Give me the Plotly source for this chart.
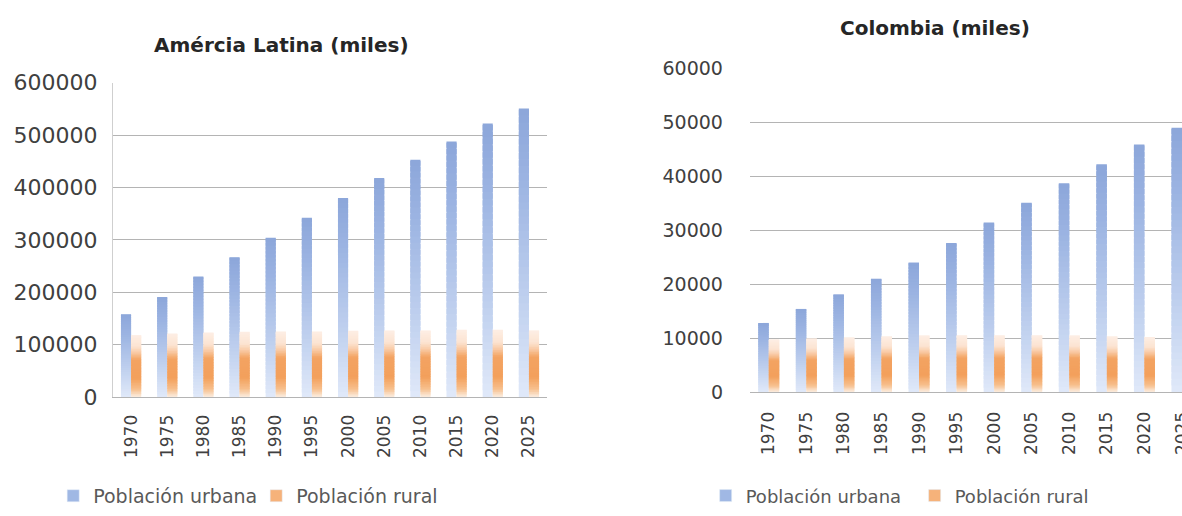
import numpy as np
import plotly.graph_objects as go

# Population (thousands), 1970-2025
years = ["1970", "1975", "1980", "1985", "1990", "1995",
         "2000", "2005", "2010", "2015", "2020", "2025"]

latam_urbana = [158000, 191000, 230000, 267000, 304000, 342000,
                380000, 418000, 453000, 488000, 522000, 551000]
latam_rural = [118000, 121000, 123000, 124000, 125000, 125000,
               126000, 127000, 127000, 128000, 128000, 127000]

col_urbana = [12800, 15400, 18100, 21000, 24000, 27600,
              31400, 35100, 38700, 42200, 45900, 49000]
col_rural = [9700, 9900, 10100, 10300, 10400, 10500,
             10500, 10500, 10400, 10300, 10200, 10100]

# vertical colour ramps (fraction of bar height -> rgb)
URBAN_STOPS = [(0.0, (224, 233, 249)), (0.35, (190, 207, 238)),
               (0.75, (156, 180, 226)), (1.0, (140, 166, 218))]
RURAL_STOPS = [(0.0, (252, 238, 226)), (0.12, (247, 192, 142)),
               (0.3, (243, 160, 92)), (0.6, (243, 163, 98)),
               (0.72, (249, 203, 166)), (0.82, (252, 228, 210)),
               (1.0, (253, 238, 228))]

N_SEG = 40


def ramp(stops, f):
    for (f0, c0), (f1, c1) in zip(stops[:-1], stops[1:]):
        if f0 <= f <= f1:
            t = (f - f0) / (f1 - f0)
            c = [round(a + (b - a) * t) for a, b in zip(c0, c1)]
            return "rgb({},{},{})".format(*c)
    return "rgb({},{},{})".format(*stops[-1][1])


def gradient_bars(fig, values, stops, group, xa, ya):
    # each bar is painted bottom-up as overlapping slices of a colour ramp
    vals = np.asarray(values, dtype=float)
    for k in range(N_SEG):
        f = (k + 0.5) / N_SEG
        lo = vals * k / N_SEG
        hi = vals * min(k + 1.8, N_SEG) / N_SEG
        fig.add_trace(go.Bar(
            x=years, y=hi - lo, base=lo,
            marker=dict(color=ramp(stops, f), line=dict(width=0)),
            offsetgroup=group, xaxis=xa, yaxis=ya,
            showlegend=False, hoverinfo="skip"))


def legend_entry(fig, name, color, group, xa, ya, legend):
    fig.add_trace(go.Bar(
        x=[None], y=[None], name=name, marker=dict(color=color),
        offsetgroup=group, xaxis=xa, yaxis=ya, legend=legend))


fig = go.Figure()

# Latin America
gradient_bars(fig, latam_urbana, URBAN_STOPS, "u", "x", "y")
gradient_bars(fig, latam_rural, RURAL_STOPS, "r", "x", "y")
legend_entry(fig, "Población urbana", "rgb(160,184,228)", "u", "x", "y", "legend")
legend_entry(fig, "Población rural", "rgb(246,178,122)", "r", "x", "y", "legend")

# Colombia
gradient_bars(fig, col_urbana, URBAN_STOPS, "u", "x2", "y2")
gradient_bars(fig, col_rural, RURAL_STOPS, "r", "x2", "y2")
legend_entry(fig, "Población urbana", "rgb(160,184,228)", "u", "x2", "y2", "legend2")
legend_entry(fig, "Población rural", "rgb(246,178,122)", "r", "x2", "y2", "legend2")

FONT = "DejaVu Sans"
YTICK1 = dict(family=FONT, size=22, color="#404040")
YTICK2 = dict(family=FONT, size=19, color="#404040")
XTICK = dict(family=FONT, size=17, color="#404040")
LEG1 = dict(family=FONT, size=19, color="#595959")
LEG2 = dict(family=FONT, size=18, color="#595959")
TITLE = dict(family=FONT, size=20, color="#262626")
GRID = "#B4B4B4"

fig.update_layout(
    width=1182, height=516,
    margin=dict(l=0, r=0, t=0, b=0, autoexpand=False),
    paper_bgcolor="white", plot_bgcolor="white",
    barmode="group", bargap=0.44, bargroupgap=0,
    font=dict(family=FONT, color="#404040"),
    xaxis=dict(domain=[0.0956, 0.4628], anchor="y", type="category",
               range=[-0.5, 11.5], tickangle=-90, showgrid=False,
               showline=True, linecolor=GRID, ticks="",
               tickfont=XTICK, ticklabelstandoff=10),
    yaxis=dict(domain=[0.2306, 0.8397], anchor="x", range=[0, 600000],
               dtick=100000, tickformat="d", gridcolor=GRID,
               showline=True, linecolor="#CFCFCF", zeroline=False,
               ticks="", tickfont=YTICK1, ticklabelstandoff=10),
    xaxis2=dict(domain=[0.6345, 1.0], anchor="y2", type="category",
                range=[-0.5, 11.0], tickangle=-90, showgrid=False,
                showline=True, linecolor=GRID, ticks="",
                tickfont=XTICK, ticklabelstandoff=12),
    yaxis2=dict(domain=[0.2403, 0.8676], anchor="x2", range=[0, 60000],
                dtick=10000, tickformat="d", gridcolor=GRID,
                showline=False, zeroline=False, ticks="",
                tickfont=YTICK2, ticklabelstandoff=26),
    legend=dict(orientation="h", x=0.045, xanchor="left", y=0.039,
                yanchor="middle", font=LEG1,
                entrywidth=158, entrywidthmode="pixels",
                bgcolor="rgba(0,0,0,0)", itemclick=False),
    legend2=dict(orientation="h", x=0.597, xanchor="left", y=0.039,
                 yanchor="middle", font=LEG2,
                 entrywidth=164, entrywidthmode="pixels",
                 bgcolor="rgba(0,0,0,0)", itemclick=False),
    annotations=[
        dict(text="<b>Amércia Latina (miles)</b>", xref="paper", yref="paper",
             x=0.238, y=0.913, xanchor="center", yanchor="middle",
             showarrow=False, font=TITLE),
        dict(text="<b>Colombia (miles)</b>", xref="paper", yref="paper",
             x=0.791, y=0.946, xanchor="center", yanchor="middle",
             showarrow=False, font=TITLE),
    ],
)

fig.write_html("out.html")
